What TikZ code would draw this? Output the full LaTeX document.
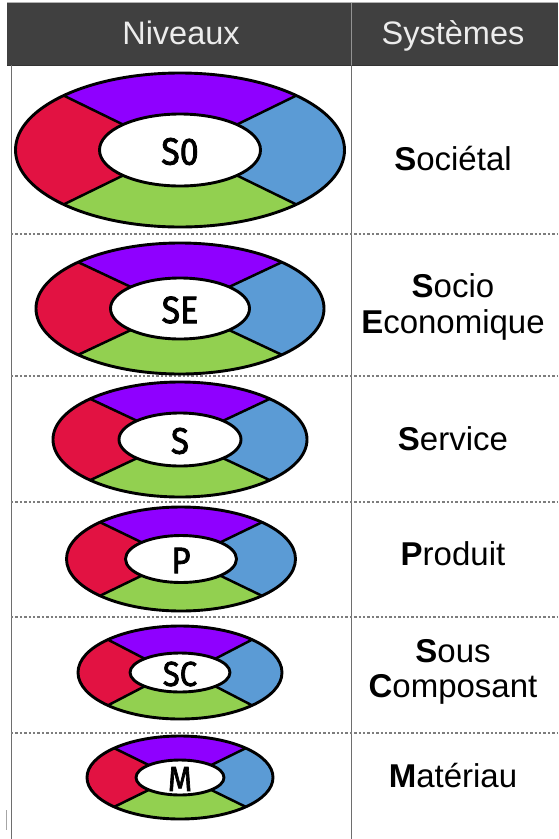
\documentclass[tikz,border=0pt]{standalone}
\usepackage{fontspec}
\setmainfont{Liberation Sans}
\newfontfamily\lblfont{Fira Sans}[FakeBold=2.2]
\usetikzlibrary{calc}

\definecolor{hdrgray}{RGB}{64,64,64}
\definecolor{hdrtext}{RGB}{236,236,236}
\definecolor{rulegray}{RGB}{110,110,110}
\definecolor{dotgray}{RGB}{125,125,125}
\definecolor{ringred}{RGB}{226,18,66}
\definecolor{ringpurple}{RGB}{143,0,255}
\definecolor{ringblue}{RGB}{91,155,213}
\definecolor{ringgreen}{RGB}{146,208,80}

\tikzset{
  ringline/.style={line width=2.9pt, black},
  rowsep/.style={dotgray, line width=2.5pt, dash pattern=on 2.4pt off 2pt},
  hdrlabel/.style={text=hdrtext, font=\fontsize{32.5}{32.5}\selectfont, anchor=base},
  syslabel/.style={black, font=\fontsize{33}{36}\selectfont, align=center, anchor=base},
}

% #1 name, #2 cx, #3 cy, #4 outer x radius, #5 outer y radius,
% #6 inner x radius, #7 inner y radius, #8 label, #9 label size
\newcommand\ringlevel[9]{%
  \begin{scope}[shift={(#2,#3)}]
    \fill[ringred] (135:#4 and #5) arc[start angle=135,end angle=225,x radius=#4,y radius=#5]
      -- (225:#6 and #7) arc[start angle=225,end angle=135,x radius=#6,y radius=#7] -- cycle;
    \fill[ringpurple] (225:#4 and #5) arc[start angle=225,end angle=315,x radius=#4,y radius=#5]
      -- (315:#6 and #7) arc[start angle=315,end angle=225,x radius=#6,y radius=#7] -- cycle;
    \fill[ringblue] (-45:#4 and #5) arc[start angle=-45,end angle=45,x radius=#4,y radius=#5]
      -- (45:#6 and #7) arc[start angle=45,end angle=-45,x radius=#6,y radius=#7] -- cycle;
    \fill[ringgreen] (45:#4 and #5) arc[start angle=45,end angle=135,x radius=#4,y radius=#5]
      -- (135:#6 and #7) arc[start angle=135,end angle=45,x radius=#6,y radius=#7] -- cycle;
    \foreach \a in {45,135,225,315}
      \draw[ringline, line width=2.5pt] (\a:#4 and #5) -- (\a:#6 and #7);
    \draw[ringline] (0,0) ellipse[x radius=#4, y radius=#5];
    \filldraw[ringline, fill=white] (0,0) ellipse[x radius=#6, y radius=#7];
    \node[name=#1, inner sep=0pt] at (0,1.5)
      {\lblfont\fontsize{#9}{#9}\selectfont\scalebox{1}[1.12]{#8}};
  \end{scope}%
}

\begin{document}
\begin{tikzpicture}[x=1pt, y=-1pt]
  \useasboundingbox (0,0) rectangle (558,839);
  \fill[white] (0,0) rectangle (558,839);

  % header band
  \fill[hdrgray] (7,3) rectangle (558,65);
  \draw[black!80, line width=0.8pt] (7,65) -- (558,65);
  \draw[gray!60, line width=0.6pt] (7,2.6) -- (558,2.6);
  \draw[gray!85, line width=0.8pt] (351,3) -- (351,65);
  \node[hdrlabel] (hniv) at (181,44) {Niveaux};
  \node[hdrlabel] (hsys) at (453,44) {Systèmes};

  % table rules
  \draw[rulegray, line width=0.9pt] (11,65) -- (11,839);
  \draw[rulegray, line width=0.9pt] (351,65) -- (351,839);
  \draw[gray!70, line width=0.6pt] (6,810) -- (6,830);
  \foreach \yy in {234,376,502,617,733}
    \draw[rowsep] (11,\yy) -- (558,\yy);

  % levels
  \ringlevel{so}{180}{150}{164.5}{77}{80.5}{36}{S0}{34}
  \ringlevel{se}{180}{308.5}{144}{65.5}{69.5}{30.5}{SE}{34}
  \ringlevel{s}{180}{439.5}{127}{57.5}{61}{26.5}{S}{33}
  \ringlevel{p}{181}{559}{114.5}{52}{55.5}{23.5}{P}{33}
  \ringlevel{sc}{180}{672.5}{102}{46.5}{50}{19.5}{SC}{31}
  \ringlevel{m}{180}{777.5}{93}{41.5}{44}{17.5}{M}{31}

  % system names
  \node[syslabel] (tso) at (453,170) {\textbf{S}ociétal};
  \node[syslabel] (tse1) at (453,297) {\textbf{S}ocio};
  \node[syslabel] (tse2) at (453,333) {\textbf{E}conomique};
  \node[syslabel] (ts) at (453,450) {\textbf{S}ervice};
  \node[syslabel] (tp) at (453,565) {\textbf{P}roduit};
  \node[syslabel] (tsc1) at (453,662) {\textbf{S}ous};
  \node[syslabel] (tsc2) at (453,697) {\textbf{C}omposant};
  \node[syslabel] (tm) at (453,787) {\textbf{M}atériau};
\end{tikzpicture}
\end{document}
